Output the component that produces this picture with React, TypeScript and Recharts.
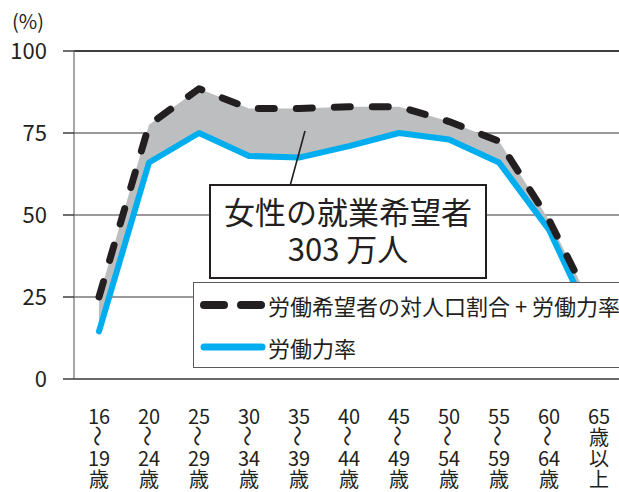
import * as React from "react";
import {
    ComposedChart,
    Area,
    Line,
    XAxis,
    YAxis,
    CartesianGrid,
    ReferenceLine,
} from "recharts";

const AGE_FROM = ["16", "20", "25", "30", "35", "40", "45", "50", "55", "60", "65"];
const AGE_TO = ["19", "24", "29", "34", "39", "44", "49", "54", "59", "64", ""];
const WISH_PLUS_LF = [25, 77.5, 88.5, 82.5, 82.5, 83, 83, 78.5, 72.5, 48.5, 18];
const LABOR_FORCE = [14.5, 66, 75, 68, 67.5, 71, 75, 73, 66, 45.5, 13];
const Y_TICKS = [0, 25, 50, 75, 100];
const SERIES_NAMES = ["労働希望者の対人口割合 + 労働力率", "労働力率"];
const NOTE_LINES = ["女性の就業希望者", "303 万人"];

const data = AGE_FROM.map((from, i) => ({
    i,
    total: WISH_PLUS_LF[i],
    lf: LABOR_FORCE[i],
}));

const BOUNDARY_TICKS = AGE_FROM.map((_, i) => i - 0.5).concat(AGE_FROM.length - 0.5);
const CENTER_TICKS = AGE_FROM.map((_, i) => i);

const FONT = "'Noto Sans CJK JP', 'Noto Sans', sans-serif";
const INK = "#231f20";
const BLUE = "#00aeef";

function AgeTick({ x, y, payload }: any) {
    const i = payload.value;
    const to = AGE_TO[i];
    const lines = to ? [AGE_FROM[i], "〜", to, "歳"] : [AGE_FROM[i], "歳", "以", "上"];
    return (
        <g>
            {lines.map((t, k) => {
                const cy = y + 20 + k * 21;
                const wave = t === "〜";
                return (
                    <text
                        key={k}
                        x={x}
                        y={cy}
                        textAnchor="middle"
                        dominantBaseline="central"
                        fontSize={wave ? 21 : 20}
                        fill={INK}
                        fontFamily={FONT}
                        transform={wave ? `rotate(90 ${x} ${cy})` : undefined}
                    >
                        {t}
                    </text>
                );
            })}
        </g>
    );
}

export default function App() {
    return (
        <div
            style={{
                position: "absolute",
                left: 0,
                top: 0,
                width: 619,
                height: 492,
                overflow: "hidden",
                background: "#fff",
                fontFamily: FONT,
                color: INK,
            }}
        >
            <ComposedChart
                width={630}
                height={492}
                data={data}
                margin={{ top: 51, right: 6, bottom: 0, left: 0 }}
            >
                <CartesianGrid horizontal vertical={false} stroke="#77787b" strokeWidth={1.3} />
                <YAxis
                    domain={[0, 100]}
                    ticks={Y_TICKS}
                    width={74}
                    tickSize={11}
                    tickMargin={16}
                    axisLine={{ stroke: "#77787b", strokeWidth: 1.3 }}
                    tickLine={{ stroke: INK, strokeWidth: 1.3 }}
                    tick={{ fontSize: 22, fill: INK, fontFamily: FONT }}
                />
                <XAxis
                    xAxisId="grid"
                    dataKey="i"
                    type="number"
                    domain={[-0.5, AGE_FROM.length - 0.5]}
                    ticks={BOUNDARY_TICKS}
                    height={8}
                    tickSize={5}
                    tick={false}
                    axisLine={{ stroke: "#58595b", strokeWidth: 1.3 }}
                    tickLine={{ stroke: "#58595b", strokeWidth: 1.3 }}
                />
                <XAxis
                    xAxisId="lab"
                    dataKey="i"
                    type="number"
                    domain={[-0.5, AGE_FROM.length - 0.5]}
                    ticks={CENTER_TICKS}
                    height={105}
                    axisLine={false}
                    tickLine={false}
                    interval={0}
                    tick={<AgeTick />}
                />
                <ReferenceLine xAxisId="lab" y={100} stroke={INK} strokeWidth={1.3} />
                <Area
                    xAxisId="lab"
                    type="linear"
                    dataKey={(d: any) => [d.lf, d.total]}
                    fill="#bcbec0"
                    fillOpacity={1}
                    stroke="none"
                    isAnimationActive={false}
                />
                <Line
                    xAxisId="lab"
                    type="linear"
                    dataKey="lf"
                    stroke={BLUE}
                    strokeWidth={6}
                    strokeLinecap="round"
                    strokeLinejoin="round"
                    dot={false}
                    isAnimationActive={false}
                />
                <Line
                    xAxisId="lab"
                    type="linear"
                    dataKey="total"
                    stroke={INK}
                    strokeWidth={7}
                    strokeDasharray="16 22"
                    strokeLinecap="round"
                    strokeLinejoin="round"
                    dot={false}
                    isAnimationActive={false}
                />
            </ComposedChart>

            <div style={{ position: "absolute", left: 12, top: 9, fontSize: 20, lineHeight: "24px" }}>
                (%)
            </div>

            <svg width={619} height={492} style={{ position: "absolute", left: 0, top: 0 }}>
                <line x1={290} y1={186} x2={305} y2={131} stroke={INK} strokeWidth={1.6} />
            </svg>

            <div
                style={{
                    position: "absolute",
                    left: 209,
                    top: 184,
                    width: 274,
                    height: 85,
                    border: `2px solid ${INK}`,
                    background: "#fff",
                    textAlign: "center",
                    fontSize: 31,
                    lineHeight: "37px",
                    paddingTop: 6,
                    boxSizing: "content-box",
                }}
            >
                {NOTE_LINES.map((t) => (
                    <div key={t}>{t}</div>
                ))}
            </div>

            <div
                style={{
                    position: "absolute",
                    left: 193,
                    top: 282,
                    width: 440,
                    height: 84,
                    border: "1.5px solid #58595b",
                    background: "#fff",
                }}
            >
                {SERIES_NAMES.map((name, k) => (
                    <div
                        key={name}
                        style={{
                            position: "absolute",
                            left: 6,
                            top: 7 + k * 42,
                            height: 30,
                            display: "flex",
                            alignItems: "center",
                            whiteSpace: "nowrap",
                            fontSize: 22,
                        }}
                    >
                        <svg width={66} height={12}>
                            {k === 0 ? (
                                <line
                                    x1={4}
                                    y1={6}
                                    x2={62}
                                    y2={6}
                                    stroke={INK}
                                    strokeWidth={8}
                                    strokeLinecap="round"
                                    strokeDasharray="20 17"
                                />
                            ) : (
                                <line
                                    x1={4}
                                    y1={6}
                                    x2={62}
                                    y2={6}
                                    stroke={BLUE}
                                    strokeWidth={7}
                                    strokeLinecap="round"
                                />
                            )}
                        </svg>
                        <span style={{ marginLeft: 2 }}>{name}</span>
                    </div>
                ))}
            </div>
        </div>
    );
}
